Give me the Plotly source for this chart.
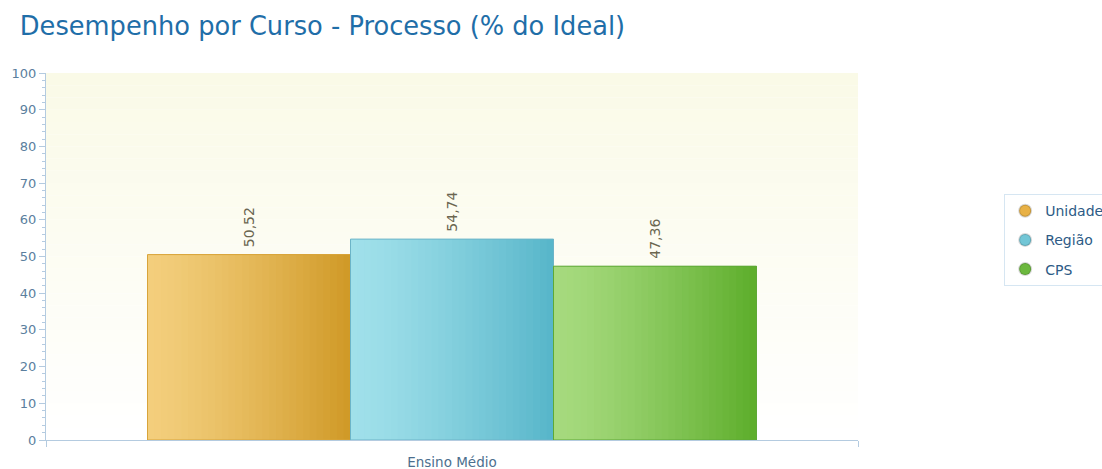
import plotly.graph_objects as go

categories = ["Ensino Médio"]
series_names = ["Unidade", "Região", "CPS"]
series_values = [[50.52], [54.74], [47.36]]
value_labels = [["50,52"], ["54,74"], ["47,36"]]

# styling
grad_left = ["#f3ce7c", "#a0e0ea", "#a6da7e"]
grad_right = ["#d09a28", "#58b6ca", "#5eae2c"]
border_cols = ["#d8a43a", "#6cb4c8", "#5ea936"]
legend_cols = ["#e8b145", "#72c6d6", "#6cb83e"]

NSLICE = 30
BAR_W = 0.25
offsets = [-0.375, -0.125, 0.125]


def hex2rgb(h):
    h = h.lstrip("#")
    return tuple(int(h[i:i + 2], 16) for i in (0, 2, 4))


def mix(c1, c2, t):
    a, b = hex2rgb(c1), hex2rgb(c2)
    return "rgb(%d,%d,%d)" % tuple(round(a[i] + (b[i] - a[i]) * t) for i in range(3))


fig = go.Figure()
font_family = "Verdana, DejaVu Sans, sans-serif"

for k, name in enumerate(series_names):
    sw = BAR_W / NSLICE
    for s in range(NSLICE):
        t = s / (NSLICE - 1)
        # each slice runs to the bar's right edge; later (darker) slices sit on top
        fig.add_trace(go.Bar(
            x=categories, y=series_values[k], width=[BAR_W - s * sw],
            offset=offsets[k] + s * sw,
            marker=dict(color=mix(grad_left[k], grad_right[k], t ** 1.3), line=dict(width=0)),
            showlegend=False, hoverinfo="skip"))
    # outline + label
    fig.add_trace(go.Bar(
        x=categories, y=series_values[k], width=[BAR_W], offset=offsets[k],
        marker=dict(color="rgba(0,0,0,0)", line=dict(color=border_cols[k], width=1)),
        text=value_labels[k], texttemplate=" %{text}",
        textposition="outside", textangle=-90,
        constraintext="none", cliponaxis=False,
        textfont=dict(family=font_family, size=14, color="#6b6650"),
        name=name, showlegend=False))

# legend entries with round markers
for k, name in enumerate(series_names):
    fig.add_trace(go.Scatter(
        x=[None], y=[None], mode="markers", name=name, legendgroup=name,
        marker=dict(symbol="circle", size=11, color=legend_cols[k],
                    line=dict(color="rgba(0,0,0,0.15)", width=1))))

# background gradient in plot area
NB = 30
top_c, bot_c = "#fafae7", "#ffffff"
for i in range(NB):
    fig.add_shape(type="rect", xref="x domain", yref="y domain",
                  x0=0, x1=1, y0=i / NB, y1=(i + 1) / NB,
                  fillcolor=mix(bot_c, top_c, (i + 0.5) / NB),
                  line=dict(width=0), layer="below")

axis_col = "#b4cbe0"
tick_font = dict(family=font_family, size=13, color="#5b7f9e")

fig.update_layout(
    width=1102, height=469,
    margin=dict(l=46, r=244, t=73, b=29, autoexpand=False),
    paper_bgcolor="white", plot_bgcolor="white",
    barmode="overlay", bargap=0.25,
    title=dict(text="Desempenho por Curso - Processo (% do Ideal)",
               x=0.018, xanchor="left", y=0.945, yanchor="middle",
               font=dict(family=font_family, size=25.7, color="#1f6ea8")),
    showlegend=True,
    legend=dict(x=1.18, xanchor="left", y=0.67, yanchor="top",
                bgcolor="white", bordercolor="#d6e6f2", borderwidth=1,
                font=dict(family=font_family, size=14, color="#2d5b86"),
                itemsizing="constant", tracegroupgap=8),
    font=dict(family=font_family),
)

fig.update_yaxes(range=[0, 100], dtick=10, showgrid=False, zeroline=False,
                 showline=True, linecolor=axis_col, linewidth=1,
                 ticks="outside", ticklen=6, tickcolor=axis_col,
                 minor=dict(dtick=2, ticks="outside", ticklen=3, tickcolor=axis_col),
                 tickfont=tick_font)
fig.update_xaxes(showgrid=False, zeroline=False, showline=True, linecolor=axis_col,
                 linewidth=1, ticks="outside", ticklen=6, tickcolor=axis_col,
                 tickson="boundaries", range=[-0.5, 0.5], ticklabelstandoff=10,
                 tickfont=dict(family=font_family, size=13.5, color="#4c6f8e"))

fig.write_html("out.html")
